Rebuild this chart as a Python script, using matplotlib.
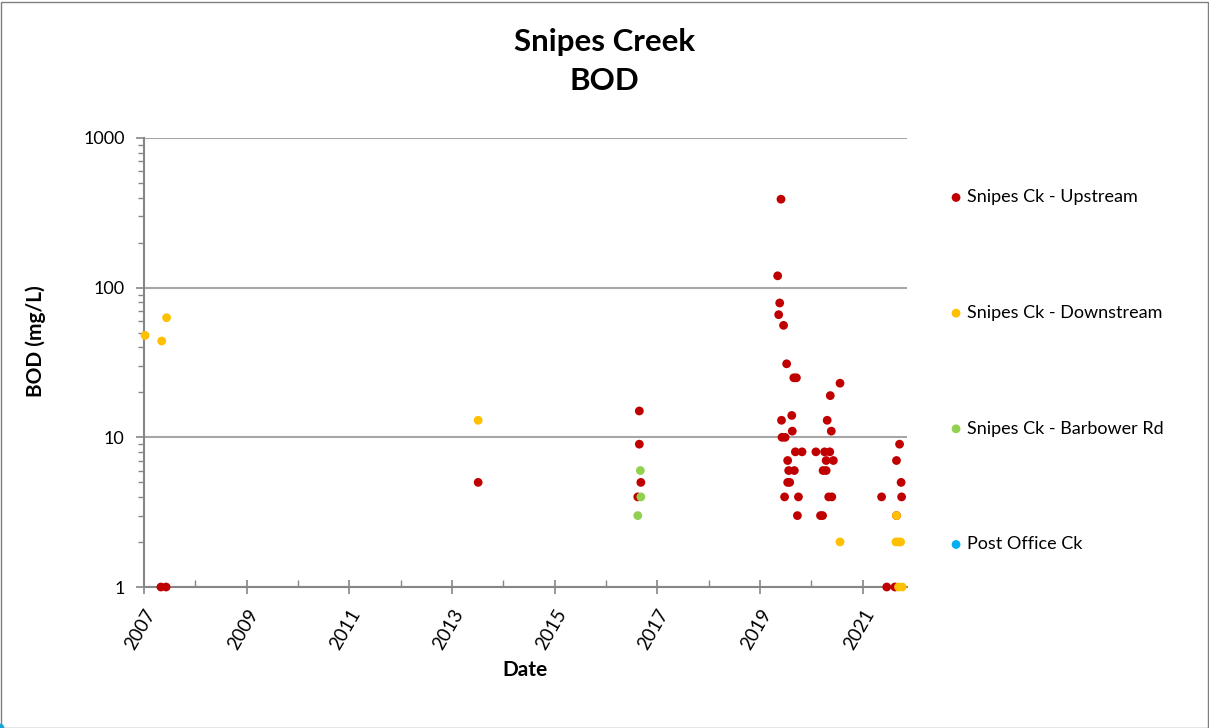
import matplotlib
matplotlib.use('Agg')
import matplotlib.pyplot as plt
from matplotlib.ticker import FixedLocator, NullFormatter, LogLocator, FuncFormatter
from matplotlib.patches import Rectangle

plt.rcParams['font.family'] = ['Lato', 'DejaVu Sans']

# sample dates as decimal years, BOD in mg/L
up_date = [2007.33, 2007.43, 2013.51,
           2016.65, 2016.65, 2016.68, 2016.62,
           2019.41, 2019.345, 2019.385, 2019.365, 2019.46, 2019.52, 2019.66, 2019.71,
           2020.56, 2020.37, 2019.62, 2019.42, 2020.31, 2019.63, 2020.39, 2019.43, 2019.49,
           2019.69, 2019.82, 2020.09, 2020.26, 2020.36,
           2019.54, 2020.29, 2020.43,
           2019.56, 2019.67, 2020.23, 2020.29,
           2019.54, 2019.58,
           2019.48, 2019.75, 2020.34, 2020.40,
           2019.73, 2020.18, 2020.22,
           2021.37, 2021.47, 2021.63,
           2021.72, 2021.66, 2021.75, 2021.76, 2021.66]
up_bod = [1, 1, 5,
          15, 9, 5, 4,
          390, 120, 79, 66, 56, 31, 25, 25,
          23, 19, 14, 13, 13, 11, 11, 10, 10,
          8, 8, 8, 8, 8,
          7, 7, 7,
          6, 6, 6, 6,
          5, 5,
          4, 4, 4, 4,
          3, 3, 3,
          4, 1, 1,
          9, 7, 5, 4, 3]

down_date = [2007.02, 2007.345, 2007.44, 2013.51, 2020.56,
             2021.66, 2021.65, 2021.70, 2021.74, 2021.70, 2021.77]
down_bod = [48, 44, 63, 13, 2,
            3, 2, 2, 2, 1, 1]

barb_date = [2016.67, 2016.68, 2016.62]
barb_bod = [6, 4, 3]

po_date = []
po_bod = []

series = [
    ('Snipes Ck - Upstream', up_date, up_bod, '#C00000'),
    ('Snipes Ck - Downstream', down_date, down_bod, '#FFC000'),
    ('Snipes Ck - Barbower Rd', barb_date, barb_bod, '#92D050'),
    ('Post Office Ck', po_date, po_bod, '#00B0F0'),
]

fig = plt.figure(figsize=(12.09, 7.28), dpi=100)
ax = fig.add_axes([144 / 1209, 1 - 587 / 728, (907 - 144) / 1209, (587 - 138) / 728])

for name, xs, ys, c in series:
    ax.scatter(xs, ys, s=40, color=c, edgecolors='none', label=name, zorder=3, clip_on=False)

ax.set_yscale('log')
ax.set_ylim(1, 1000)
ax.set_xlim(2007, 2021.865)
ax.yaxis.set_major_locator(FixedLocator([1, 10, 100, 1000]))
ax.yaxis.set_major_formatter(FuncFormatter(lambda v, p: f'{v:g}'))
ax.yaxis.set_minor_locator(LogLocator(base=10, subs=range(2, 10)))
ax.yaxis.set_minor_formatter(NullFormatter())
ax.xaxis.set_major_locator(FixedLocator(range(2007, 2022, 2)))
ax.xaxis.set_minor_locator(FixedLocator(range(2008, 2022, 2)))
ax.xaxis.set_major_formatter(FuncFormatter(lambda v, p: f'{int(round(v))}'))

grey = '#868686'
ax.grid(True, axis='y', which='major', color='#a6a6a6', linewidth=1.5, zorder=0)
for s in ['top', 'right']:
    ax.spines[s].set_visible(False)
for s in ['left', 'bottom']:
    ax.spines[s].set_color(grey)
    ax.spines[s].set_linewidth(1.5)
ax.tick_params(axis='y', which='major', direction='out', length=6, width=1.2, color=grey,
               labelsize=13, pad=8)
ax.tick_params(axis='y', which='minor', direction='out', length=4, width=1, color=grey)
ax.tick_params(axis='x', which='major', direction='inout', length=10, width=1.2, color=grey,
               labelsize=13.5, pad=9)
ax.tick_params(axis='x', which='minor', direction='in', length=5, width=1, color=grey)
for lab in ax.get_xticklabels():
    lab.set_rotation(60)
    lab.set_ha('right')
    lab.set_rotation_mode('anchor')

ax.set_ylabel('BOD (mg/L)', fontsize=15, fontweight='bold')
ax.yaxis.set_label_coords(-0.128, 0.548)
ax.set_xlabel('Date', fontsize=15, fontweight='bold', labelpad=5)

fig.text(0.5, 0.9155, 'Snipes Creek\nBOD', ha='center', va='center', fontsize=22.5,
         fontweight='bold', linespacing=1.5)

ax.legend(loc='upper left', bbox_to_anchor=(938 / 1209, 1 - 182 / 728),
          bbox_transform=fig.transFigure, frameon=False, fontsize=13,
          labelspacing=5.52, handletextpad=0.0, handlelength=1.2, markerscale=1.0,
          borderaxespad=0)

fig.patches.append(Rectangle((0.5 / 1209, 0.5 / 728), 1 - 2 / 1209, 1 - 2 / 728,
                             transform=fig.transFigure, fill=False,
                             edgecolor='#7f7f7f', linewidth=1))

fig.savefig('out.png', dpi=100)
